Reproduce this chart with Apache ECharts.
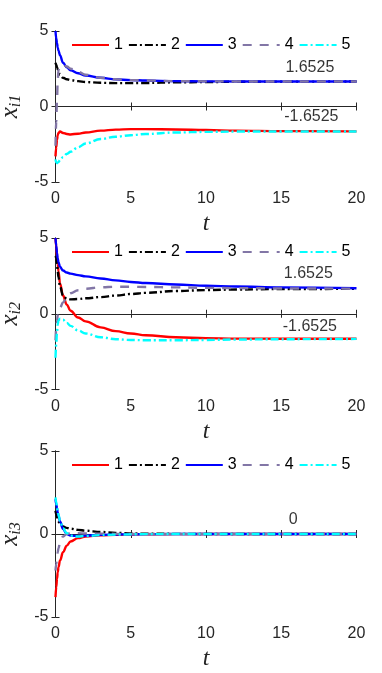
<!DOCTYPE html>
<html>
<head>
<meta charset="utf-8">
<script src="https://cdn.jsdelivr.net/npm/echarts@6/dist/echarts.min.js"></script>
<style>
  html, body { margin: 0; padding: 0; background: #fff; }
  #chart { width: 382px; height: 673px; }
</style>
</head>
<body>
<div id="chart"></div>
<script>
// time samples shared by every curve
const tData = [0, 0.05, 0.1, 0.15, 0.2, 0.3, 0.5, 0.75, 1, 1.5, 2, 3, 4, 5, 6, 8, 10, 12, 15, 20];

// x_i1
const x1_1 = [-3.3, -2.7, -2.2, -1.9, -1.75, -1.66, -1.75, -1.82, -1.85, -1.8, -1.72, -1.6, -1.53, -1.5, -1.5, -1.52, -1.56, -1.6, -1.63, -1.65];
const x1_2 = [2.9, 2.75, 2.6, 2.45, 2.3, 2.1, 1.9, 1.8, 1.75, 1.68, 1.62, 1.57, 1.55, 1.55, 1.56, 1.6, 1.62, 1.64, 1.65, 1.6525];
const x1_3 = [5, 4.5, 4.2, 3.9, 3.7, 3.4, 2.9, 2.6, 2.4, 2.2, 2.05, 1.9, 1.8, 1.75, 1.72, 1.68, 1.665, 1.66, 1.655, 1.6525];
const x1_4 = [-2.6, -1.0, 0.5, 1.8, 2.4, 2.7, 2.75, 2.65, 2.5, 2.3, 2.1, 1.9, 1.8, 1.75, 1.72, 1.68, 1.665, 1.66, 1.655, 1.6525];
const x1_5 = [-3.5, -3.7, -3.75, -3.72, -3.68, -3.55, -3.35, -3.15, -3.0, -2.7, -2.45, -2.15, -2.0, -1.9, -1.82, -1.72, -1.68, -1.66, -1.655, -1.6525];

// x_i2
const x2_1 = [5, 4.4, 3.8, 3.3, 2.8, 2.0, 1.2, 0.6, 0.2, -0.25, -0.5, -0.9, -1.15, -1.3, -1.42, -1.55, -1.61, -1.64, -1.65, -1.6525];
const x2_2 = [3.8, 3.7, 3.3, 2.8, 2.4, 1.8, 1.2, 1.0, 0.95, 0.97, 1.02, 1.1, 1.2, 1.3, 1.38, 1.5, 1.56, 1.6, 1.63, 1.65];
const x2_3 = [5, 4.5, 4.0, 3.65, 3.4, 3.1, 2.85, 2.72, 2.65, 2.55, 2.47, 2.33, 2.2, 2.1, 2.03, 1.93, 1.85, 1.8, 1.74, 1.68];
const x2_4 = [-1.75, -1.0, -0.5, -0.1, 0.1, 0.4, 0.75, 1.1, 1.35, 1.55, 1.65, 1.75, 1.78, 1.78, 1.77, 1.74, 1.71, 1.69, 1.67, 1.6525];
const x2_5 = [-2.9, -2.0, -1.2, -0.7, -0.45, -0.32, -0.4, -0.6, -0.8, -1.1, -1.3, -1.55, -1.68, -1.73, -1.75, -1.75, -1.73, -1.7, -1.68, -1.66];

// x_i3
const x3_1 = [-3.8, -3.2, -2.7, -2.3, -2.0, -1.6, -1.1, -0.7, -0.45, -0.25, -0.15, -0.08, -0.05, -0.03, -0.02, -0.01, 0, 0, 0, 0];
const x3_2 = [1.4, 1.2, 1.0, 0.85, 0.75, 0.6, 0.45, 0.37, 0.32, 0.25, 0.2, 0.12, 0.07, 0.04, 0.02, 0.01, 0, 0, 0, 0];
const x3_3 = [2.1, 1.8, 1.55, 1.3, 1.1, 0.75, 0.3, 0.0, -0.1, -0.12, -0.1, -0.05, -0.03, -0.02, -0.01, 0, 0, 0, 0, 0];
const x3_4 = [-2.2, -1.8, -1.4, -1.1, -0.85, -0.5, -0.15, 0.0, 0.05, 0.05, 0.03, 0.02, 0.01, 0, 0, 0, 0, 0, 0, 0];
const x3_5 = [2.2, 1.9, 1.6, 1.35, 1.15, 0.8, 0.35, 0.05, -0.1, -0.15, -0.12, -0.07, -0.04, -0.02, -0.01, 0, 0, 0, 0, 0];

const seriesNames = ["1", "2", "3", "4", "5"];
const xTicks = [0, 20, 5];
const yTicks = [-5, 5, 5];
const yNames = ["i1", "i2", "i3"];
// annotation text: [t, value, text]
const notes1 = [[16.9, 2.6, "1.6525"], [17.0, -0.68, "-1.6525"]];
const notes2 = [[16.8, 2.62, "1.6525"], [16.9, -0.88, "-1.6525"]];
const notes3 = [[15.8, 0.84, "0"]];

const panels = [
  { curves: [x1_1, x1_2, x1_3, x1_4, x1_5], notes: notes1 },
  { curves: [x2_1, x2_2, x2_3, x2_4, x2_5], notes: notes2 },
  { curves: [x3_1, x3_2, x3_3, x3_4, x3_5], notes: notes3 },
];

const styles = [
  { color: "#ff0000", type: "solid" },
  { color: "#000000", type: [8, 3, 2, 3] },
  { color: "#0000ff", type: "solid" },
  { color: "#8276a6", type: [9, 8] },
  { color: "#00ffff", type: [8, 3, 2, 3] },
];

const gridBoxes = [
  { left: 55.5, top: 31, width: 301, height: 151 },
  { left: 55.5, top: 238, width: 301, height: 151.5 },
  { left: 55.5, top: 451, width: 301, height: 166 },
];

const axisColor = "#262626";
const font = "Liberation Sans";

let grid = [], xAxis = [], yAxis = [], series = [], legend = [];

gridBoxes.forEach((g, i) => {
  grid.push(Object.assign({ containLabel: false, outerBoundsMode: "none" }, g));
  // bottom axis + decorative top axis
  xAxis.push({
    type: "value", gridIndex: i, min: xTicks[0], max: xTicks[1], interval: xTicks[2],
    axisLine: { lineStyle: { color: axisColor, width: 1 } },
    axisTick: { inside: true, length: 4, lineStyle: { color: axisColor } },
    axisLabel: { color: axisColor, fontFamily: font, fontSize: 16, margin: 9 },
    splitLine: { show: false },
    name: "t", nameLocation: "middle", nameGap: 30,
    nameTextStyle: { fontFamily: "Liberation Serif", fontStyle: "italic", fontSize: 24, color: axisColor },
  });
  xAxis.push({
    type: "value", gridIndex: i, position: "top", min: xTicks[0], max: xTicks[1], interval: xTicks[2],
    axisLine: { lineStyle: { color: axisColor, width: 1 } },
    axisTick: { inside: true, length: 4, lineStyle: { color: axisColor } },
    axisLabel: { show: false }, splitLine: { show: false },
  });
  yAxis.push({
    type: "value", gridIndex: i, min: yTicks[0], max: yTicks[1], interval: yTicks[2],
    axisLine: { show: true, lineStyle: { color: axisColor, width: 1 } },
    axisTick: { show: true, inside: true, length: 4, lineStyle: { color: axisColor } },
    axisLabel: { color: axisColor, fontFamily: font, fontSize: 16, margin: 7 },
    splitLine: { show: false },
    name: "{x|x}{s|" + yNames[i] + "}", nameLocation: "middle", nameGap: 30, nameRotate: 90,
    nameTextStyle: {
      rich: {
        x: { fontFamily: "Liberation Serif", fontStyle: "italic", fontSize: 25, color: axisColor },
        s: { fontFamily: "Liberation Serif", fontStyle: "italic", fontSize: 16, color: axisColor, padding: [9, 0, 0, 0] },
      },
    },
  });
  yAxis.push({
    type: "value", gridIndex: i, position: "right", min: yTicks[0], max: yTicks[1], interval: yTicks[2],
    axisLine: { show: true, lineStyle: { color: axisColor, width: 1 } },
    axisTick: { show: true, inside: true, length: 4, lineStyle: { color: axisColor } },
    axisLabel: { show: false }, splitLine: { show: false },
  });

  legend.push({
    data: seriesNames, left: 66, top: g.top + 1, orient: "horizontal",
    itemWidth: 37, itemHeight: 14, itemGap: 5,
    itemStyle: { color: "transparent", borderWidth: 0, opacity: 0 },
    textStyle: { fontFamily: font, fontSize: 16, color: "#000" },
    selectedMode: false,
  });

  panels[i].curves.forEach((vals, k) => {
    series.push({
      name: seriesNames[k], type: "line", xAxisIndex: i * 2, yAxisIndex: i * 2,
      data: tData.map((t, j) => [t, vals[j]]),
      showSymbol: false, symbol: "none", smooth: 0.4, smoothMonotone: "x",
      lineStyle: { color: styles[k].color, type: styles[k].type, width: 2.4 },
      itemStyle: { color: styles[k].color },
      animation: false, silent: true,
    });
  });

  series.push({
    type: "scatter", xAxisIndex: i * 2, yAxisIndex: i * 2, symbolSize: 0,
    data: panels[i].notes.map((n) => ({ value: [n[0], n[1]], name: n[2] })),
    label: { show: true, position: "inside", formatter: "{b}", fontFamily: font, fontSize: 16, color: "#000" },
    animation: false, silent: true,
  });
});

var myChart = echarts.init(document.getElementById("chart"));
myChart.setOption({ animation: false, grid, xAxis, yAxis, legend, series });
</script>
</body>
</html>
